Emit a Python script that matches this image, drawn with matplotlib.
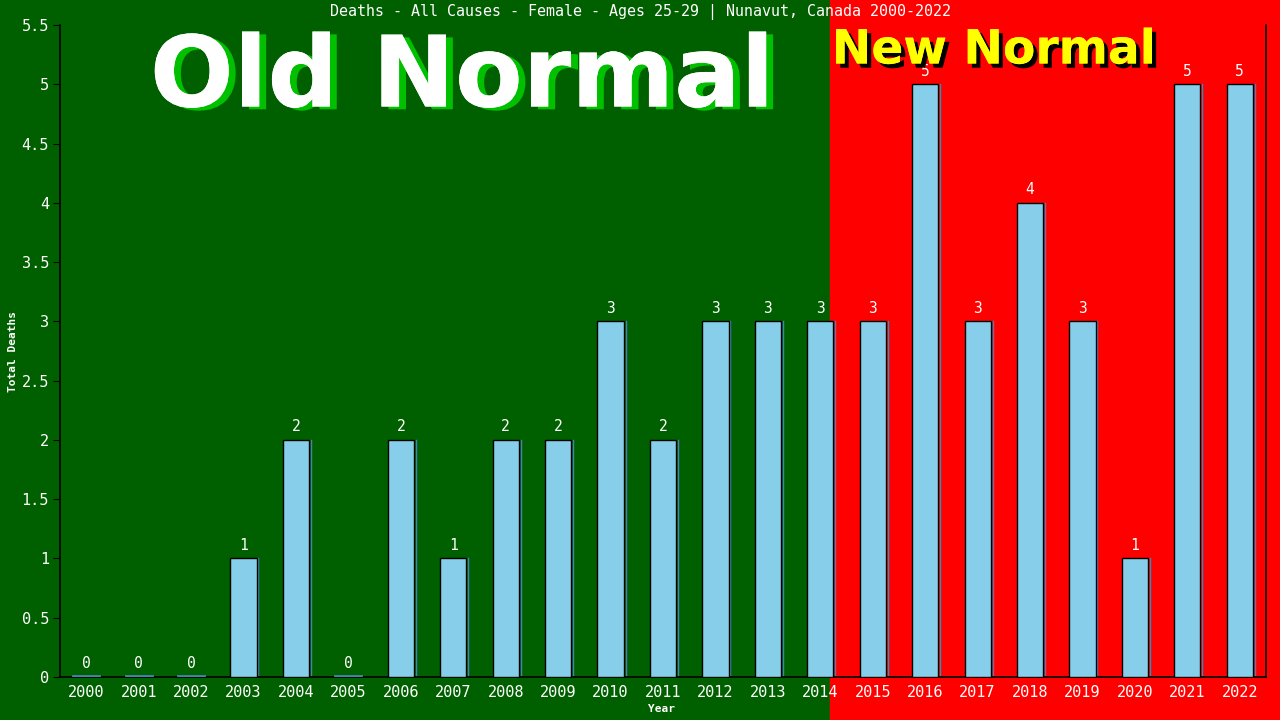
import matplotlib.pyplot as plt
from matplotlib.patches import Rectangle
import matplotlib.patheffects as pe

years = [str(y) for y in range(2000, 2023)]
deaths = [0, 0, 0, 1, 2, 0, 2, 1, 2, 2, 3, 2, 3, 3, 3, 3, 5, 3, 4, 3, 1, 5, 5]
yticks = [0, 0.5, 1, 1.5, 2, 2.5, 3, 3.5, 4, 4.5, 5, 5.5]
ytick_labels = ["0", "0.5", "1", "1.5", "2", "2.5", "3", "3.5", "4", "4.5", "5", "5.5"]

mono = "DejaVu Sans Mono"


def main():
    fig = plt.figure(figsize=(12.8, 7.2), dpi=100)
    split = 830 / 1280
    fig.patches.append(Rectangle((0, 0), split, 1, transform=fig.transFigure,
                                 color="#006000", zorder=-10))
    fig.patches.append(Rectangle((split, 0), 1 - split, 1, transform=fig.transFigure,
                                 color="#ff0000", zorder=-10))

    ax = fig.add_axes([60 / 1280, 1 - 677 / 720, 1206 / 1280, 652 / 720])
    ax.set_facecolor("none")

    x = list(range(len(years)))
    w = 0.5
    for xi, v in zip(x, deaths):
        if v == 0:
            ax.plot([xi - w / 2, xi + w / 2], [0.01, 0.01], color="#4682b4", lw=2, zorder=3)
        else:
            ax.bar(xi, v, width=w, color="#87ceeb", edgecolor="black", linewidth=1.0, zorder=3)
            ax.plot([xi + w / 2 + 0.035, xi + w / 2 + 0.035], [0, v], color="#4682b4", lw=1, zorder=2)
        ax.annotate(str(v), (xi, v), xytext=(0, 4), textcoords="offset points",
                    ha="center", va="bottom", color="white", fontsize=10.5, family=mono)

    ax.set_xlim(-0.5, 22.5)
    ax.set_ylim(0, 5.5)
    ax.set_xticks(x)
    ax.set_xticklabels(years, family=mono, fontsize=11, color="white")
    ax.tick_params(axis="x", length=0, pad=6)
    ax.set_yticks(yticks)
    ax.set_yticklabels(ytick_labels, family=mono, fontsize=11, color="white")
    ax.tick_params(axis="y", length=5, color="black", direction="out", pad=3)
    ax.spines["top"].set_visible(False)
    for s in ["left", "bottom", "right"]:
        ax.spines[s].set_color("black")
        ax.spines[s].set_linewidth(1.2)

    fig.text(640 / 1280, 1 - 12 / 720, "Deaths - All Causes - Female - Ages 25-29 | Nunavut, Canada 2000-2022",
             ha="center", va="center", color="white", fontsize=10.8, family=mono)
    fig.text(661 / 1280, 1 - 709 / 720, "Year", ha="center", va="center",
             color="white", fontsize=8, family=mono, weight="bold")
    fig.text(13 / 1280, 1 - 352 / 720, "Total Deaths", ha="center", va="center",
             rotation=90, color="white", fontsize=8, family=mono, weight="bold")

    fig.text(462 / 1280, 1 - 79 / 720, "Old Normal", ha="center", va="center",
             color="white", fontsize=71, weight="bold", family="DejaVu Sans",
             path_effects=[pe.withSimplePatchShadow(offset=(5, -2), shadow_rgbFace="#00c000", alpha=1),
                           pe.Normal()])
    fig.text(994 / 1280, 1 - 51 / 720, "New Normal", ha="center", va="center",
             color="#ffff00", fontsize=34, weight="bold", family="DejaVu Sans",
             path_effects=[pe.withSimplePatchShadow(offset=(3, -3), shadow_rgbFace="black", alpha=1),
                           pe.Normal()])

    fig.savefig("out.png", dpi=100)


if __name__ == "__main__":
    main()
